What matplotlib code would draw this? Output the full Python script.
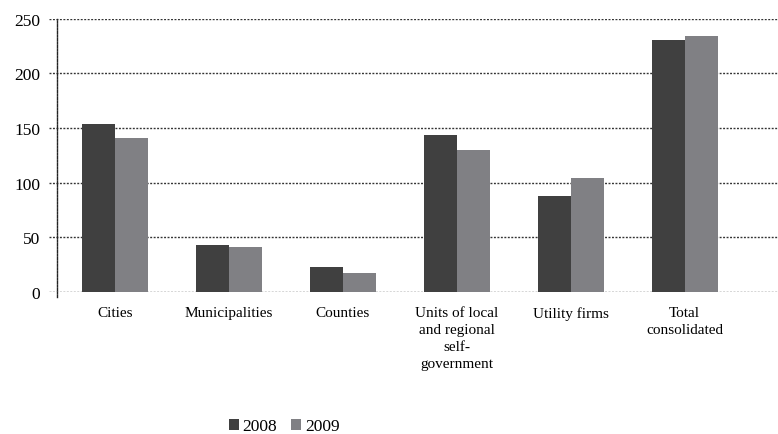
import numpy as np
import matplotlib.pyplot as plt

categories = ['Cities', 'Municipalities', 'Counties',
              'Units of local\nand regional\nself-\ngovernment',
              'Utility firms', 'Total\nconsolidated']
vals_2008 = [154, 43.5, 23, 144, 88, 230]
vals_2009 = [141, 41.5, 17.5, 129.5, 104.5, 234]
years = ['2008', '2009']
colors = ['#404040', '#808084']
yticks = [0, 50, 100, 150, 200, 250]

plt.rcParams['font.family'] = ['Liberation Serif', 'DejaVu Serif']

fig = plt.figure(figsize=(7.78, 4.35), dpi=100)
ax = fig.add_axes([0.063, 0.326, 0.937, 0.629])

x = np.arange(len(categories))
w = 0.29
ax.bar(x - w/2, vals_2008, w, color=colors[0], label=years[0], zorder=3)
ax.bar(x + w/2, vals_2009, w, color=colors[1], label=years[1], zorder=3)

ax.set_xlim(-0.58, 5.82)
ax.set_ylim(0, 250)
ax.set_yticks(yticks)
ax.set_xticks(x)
ax.set_xticklabels(categories, fontsize=11, linespacing=1.4, va='top',
                   multialignment='center')
ax.tick_params(axis='x', length=0, pad=10)
ax.tick_params(axis='y', length=0, pad=12, labelsize=12.5)
dots = (0, (1.4, 1.1))
ax.grid(axis='y', linestyle=dots, color='#333333', linewidth=1.0, zorder=0)
for s in ['top', 'right', 'bottom']:
    ax.spines[s].set_visible(False)
ax.spines['left'].set_position(('axes', 8/729))
ax.spines['left'].set_linestyle(dots)
ax.spines['left'].set_linewidth(1.0)
ax.spines['left'].set_color('#222222')
ax.spines['left'].set_bounds(-4, 250)

fig.legend(loc='center', bbox_to_anchor=(0.365, 0.018), ncol=2, frameon=False,
           fontsize=12.5, handlelength=0.6, handleheight=0.6, handletextpad=0.2,
           columnspacing=0.8)

fig.savefig('out.png', dpi=100)
